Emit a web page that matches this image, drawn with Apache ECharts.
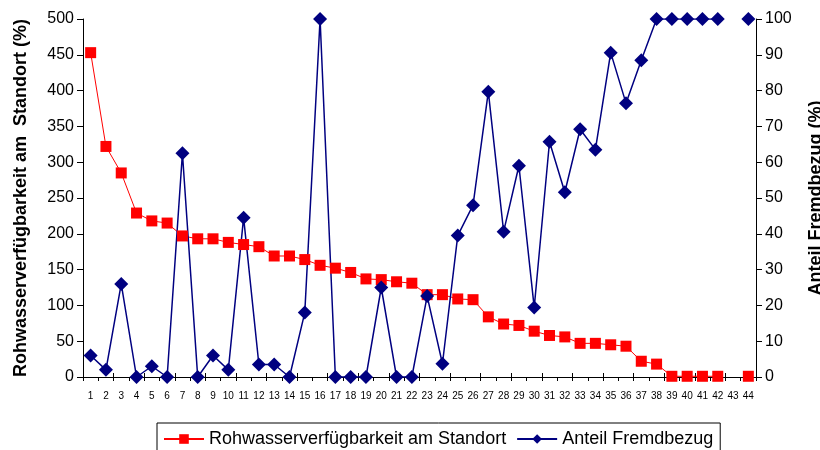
<!DOCTYPE html>
<html>
<head>
<meta charset="utf-8">
<script src="https://cdn.jsdelivr.net/npm/echarts@6/dist/echarts.min.js"></script>
<style>
html,body{margin:0;padding:0;background:#fff;}
#chart{width:820px;height:450px;}
</style>
</head>
<body>
<div id="chart"></div>
<script>
const categories = ['1','2','3','4','5','6','7','8','9','10','11','12','13','14','15','16','17','18','19','20','21','22','23','24','25','26','27','28','29','30','31','32','33','34','35','36','37','38','39','40','41','42','43','44'];
const rohwasser = [453,322,285,229,218,215,197,193,193,188,185,182,169,169,164,156,152,146,137,136,133,131,115,115,109,108,84,74,72,64,58,56,47,47,45,43,22,18,1,1,1,1,null,1];
const fremdbezug = [6,2,26,0,3,0,62.5,0,6,2,44.5,3.5,3.5,0,18,100,0,0,0,25,0,0,22.6,3.7,39.5,48,79.7,40.6,59,19.4,65.7,51.6,69.2,63.5,90.6,76.5,88.5,100,100,100,100,100,null,100];
const leftTicks = {min:0, max:500, interval:50};
const rightTicks = {min:0, max:100, interval:10};
const names = ['Rohwasserverfügbarkeit am Standort', 'Anteil Fremdbezug'];
const axisNames = ['Rohwasserverfügbarkeit am  Standort (%)', 'Anteil Fremdbezug (%)'];

const FONT = "'Liberation Sans', Arial, sans-serif";
const chart = echarts.init(document.getElementById('chart'), null, {renderer:'canvas'});
chart.setOption({
  animation: false,
  backgroundColor: '#fff',
  textStyle: {fontFamily: FONT, color: '#000'},
  grid: {left: 83, right: 64, top: 19, bottom: 73, outerBoundsMode: 'none', containLabel: false},
  legend: {
    left: 157, top: 423,
    padding: [7, 7, 7, 6],
    itemGap: 10, itemWidth: 40, itemHeight: 12,
    borderColor: '#000', borderWidth: 1,
    textStyle: {fontFamily: FONT, fontSize: 18, color: '#000'},
    data: names
  },
  xAxis: [{
    type: 'category', data: categories, boundaryGap: true,
    axisLine: {lineStyle: {color: '#000', width: 1}},
    axisTick: {show: true, length: 4, lineStyle: {color: '#000'}},
    axisLabel: {interval: 0, fontSize: 10, color: '#000', margin: 14, fontFamily: FONT}
  }, {
    type: 'category', data: categories, boundaryGap: true, position: 'bottom',
    axisLine: {show: false},
    axisTick: {show: true, inside: true, length: 4, lineStyle: {color: '#000'}},
    axisLabel: {show: false}
  }],
  yAxis: [{
    type: 'value', position: 'left',
    min: leftTicks.min, max: leftTicks.max, interval: leftTicks.interval,
    name: axisNames[0], nameLocation: 'middle', nameGap: 53, nameRotate: 90,
    nameTextStyle: {fontSize: 18, fontWeight: 'bold', color: '#000', fontFamily: FONT},
    axisLine: {show: true, lineStyle: {color: '#000'}},
    axisTick: {show: true, length: 6, lineStyle: {color: '#000'}},
    axisLabel: {fontSize: 16, color: '#000', margin: 9, fontFamily: FONT},
    splitLine: {show: false}
  }, {
    type: 'value', position: 'right',
    min: rightTicks.min, max: rightTicks.max, interval: rightTicks.interval,
    name: axisNames[1], nameLocation: 'middle', nameGap: 51, nameRotate: 90,
    nameTextStyle: {fontSize: 18, fontWeight: 'bold', color: '#000', fontFamily: FONT},
    axisLine: {show: true, lineStyle: {color: '#000'}},
    axisTick: {show: true, length: 6, lineStyle: {color: '#000'}},
    axisLabel: {fontSize: 16, color: '#000', margin: 9, fontFamily: FONT},
    splitLine: {show: false}
  }],
  series: [{
    name: names[0], type: 'line', xAxisIndex: 0, yAxisIndex: 0,
    data: rohwasser, connectNulls: false,
    symbol: 'rect', symbolSize: 11,
    lineStyle: {color: '#ff0000', width: 1},
    itemStyle: {color: '#ff0000'}
  }, {
    name: names[1], type: 'line', xAxisIndex: 0, yAxisIndex: 1,
    data: fremdbezug, connectNulls: false,
    symbol: 'diamond', symbolSize: 14,
    lineStyle: {color: '#000080', width: 1.5},
    itemStyle: {color: '#000080'}
  }]
});
</script>
</body>
</html>
